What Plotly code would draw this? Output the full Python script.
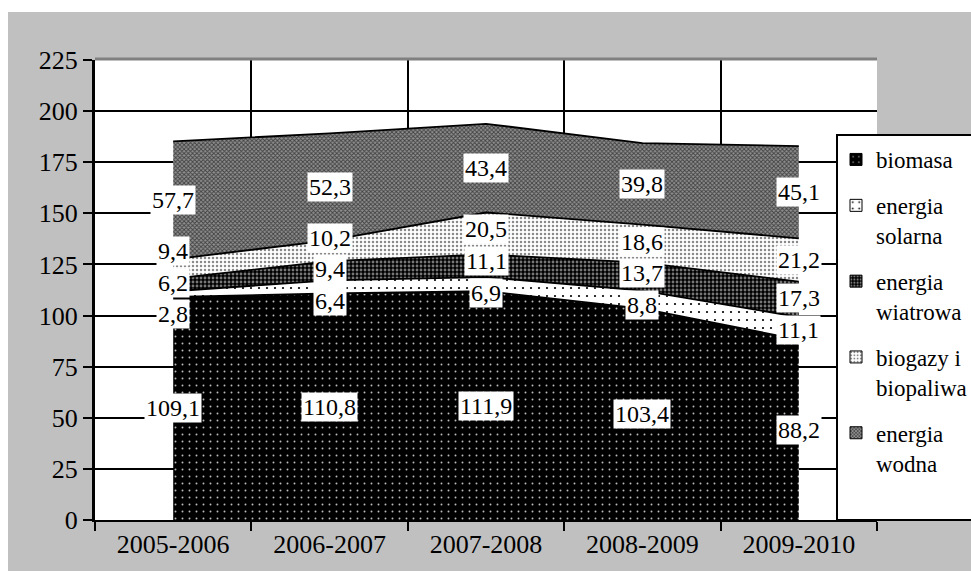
import numpy as np
import plotly.graph_objects as go

# ---------------- data ----------------
categories = ["2005-2006", "2006-2007", "2007-2008", "2008-2009", "2009-2010"]
series_names = ["biomasa", "energia solarna", "energia wiatrowa", "biogazy i biopaliwa", "energia wodna"]
legend_names = ["biomasa", "energia<br>solarna", "energia<br>wiatrowa", "biogazy i<br>biopaliwa", "energia<br>wodna"]
biomasa = [109.1, 110.8, 111.9, 103.4, 88.2]
energia_solarna = [2.8, 6.4, 6.9, 8.8, 11.1]
energia_wiatrowa = [6.2, 9.4, 11.1, 13.7, 17.3]
biogazy = [9.4, 10.2, 20.5, 18.6, 21.2]
energia_wodna = [57.7, 52.3, 43.4, 39.8, 45.1]
y_ticks = [0, 25, 50, 75, 100, 125, 150, 175, 200, 225]

values = [biomasa, energia_solarna, energia_wiatrowa, biogazy, energia_wodna]

# ---------------- styles ----------------
FONT = "Liberation Serif"
patterns = [
    dict(shape=".", bgcolor="#000000", fgcolor="#bbbbbb", size=7, solidity=0.06),
    dict(shape=".", bgcolor="#ffffff", fgcolor="#000000", size=8, solidity=0.06),
    dict(shape=".", bgcolor="#000000", fgcolor="#777777", size=4, solidity=0.4),
    dict(shape=".", bgcolor="#ffffff", fgcolor="#8a8a8a", size=4, solidity=0.3),
    dict(shape="x", bgcolor="#909090", fgcolor="#404040", size=3, solidity=0.5),
]

# pixel geometry of plot area
L, R, T, B = 95, 877, 60, 520
W, H = 971, 571
def px(x):
    return (x - L) / (R - L)
def py(y):
    return (B - y) / (B - T)

fig = go.Figure()

for name, vals, pat in zip(series_names, values, patterns):
    fig.add_trace(go.Scatter(
        x=categories, y=vals, name=name, mode="lines",
        stackgroup="one", line=dict(color="#000000", width=1.8),
        fillpattern=dict(fillmode="replace", **pat),
        showlegend=False, hoverinfo="skip",
    ))

# legend-only traces (square pattern swatches)
for lname, pat in zip(legend_names, patterns):
    fig.add_trace(go.Bar(
        x=[categories[0]], y=[None], name=lname,
        marker=dict(color=pat["bgcolor"], line=dict(color="#000000", width=1),
                    pattern=dict(fillmode="replace", **pat)),
        legendgroup=lname, showlegend=True,
    ))

# ---------------- data labels (centered in segments, de-overlapped) ----------------
arr = np.array(values)
cum = np.cumsum(arr, axis=0)
mids = cum - arr / 2.0
min_gap = 15.5
annotations = []
for j, cat in enumerate(categories):
    pos = [float(v) for v in mids[:, j]]
    for _ in range(50):
        moved = False
        for i in range(len(pos) - 1):
            if pos[i + 1] - pos[i] < min_gap:
                c = (pos[i] + pos[i + 1]) / 2
                pos[i] = c - min_gap / 2
                pos[i + 1] = c + min_gap / 2
                moved = True
        if not moved:
            break
    for i in range(len(pos)):
        annotations.append(dict(
            x=cat, y=pos[i], xref="x", yref="y",
            text=f"{arr[i, j]:.1f}".replace(".", ","),
            showarrow=False, bgcolor="#ffffff", borderpad=1,
            font=dict(family=FONT, size=24, color="#000000"),
        ))

shapes = [
    dict(type="rect", xref="paper", yref="paper", x0=px(0), x1=px(W), y0=py(12), y1=py(0),
         fillcolor="#ffffff", line=dict(width=0), layer="below"),
    dict(type="rect", xref="paper", yref="paper", x0=px(0), x1=px(8), y0=py(H), y1=py(0),
         fillcolor="#ffffff", line=dict(width=0), layer="below"),
    dict(type="line", xref="paper", yref="paper", x0=0, x1=1, y0=py(59), y1=py(59),
         line=dict(color="#808080", width=3), layer="above"),
    dict(type="rect", xref="paper", yref="paper", x0=px(837), x1=px(990), y0=py(520), y1=py(135),
         fillcolor="#ffffff", line=dict(color="#000000", width=2), layer="above"),
]

fig.update_layout(
    width=W, height=H,
    margin=dict(l=L, r=W - R, t=T, b=H - B, autoexpand=False),
    paper_bgcolor="#c0c0c0", plot_bgcolor="#ffffff",
    font=dict(family=FONT, size=26, color="#000000"),
    showlegend=True,
    legend=dict(
        x=px(836), y=py(138), xanchor="left", yanchor="top",
        bgcolor="rgba(0,0,0,0)", borderwidth=0,
        traceorder="reversed+grouped", valign="top",
        font=dict(family=FONT, size=23, color="#000000"),
        tracegroupgap=13, itemwidth=30,
    ),
    xaxis=dict(
        type="category", categoryorder="array", categoryarray=categories,
        range=[-0.5, 4.5], tickson="boundaries",
        showgrid=True, gridcolor="#000000", gridwidth=2,
        ticks="outside", ticklen=9, tickwidth=2, tickcolor="#000000",
        showline=True, linecolor="#000000", linewidth=2,
        tickfont=dict(family=FONT, size=26), fixedrange=True,
    ),
    yaxis=dict(
        range=[0, 225], tickmode="array", tickvals=y_ticks,
        showgrid=True, gridcolor="#000000", gridwidth=2, zeroline=False,
        ticks="outside", ticklen=9, tickwidth=2, tickcolor="#000000",
        showline=True, linecolor="#000000", linewidth=3,
        tickfont=dict(family=FONT, size=26), fixedrange=True,
    ),
    annotations=annotations,
    shapes=shapes,
)

# enforce the serif face on every SVG text of the chart
post = (
    "var s=document.createElement('style');"
    "s.textContent='.js-plotly-plot svg text{font-family:\"Liberation Serif\",\"Times New Roman\",serif !important;}';"
    "document.head.appendChild(s);"
)
fig.write_html("out.html", post_script=post)
